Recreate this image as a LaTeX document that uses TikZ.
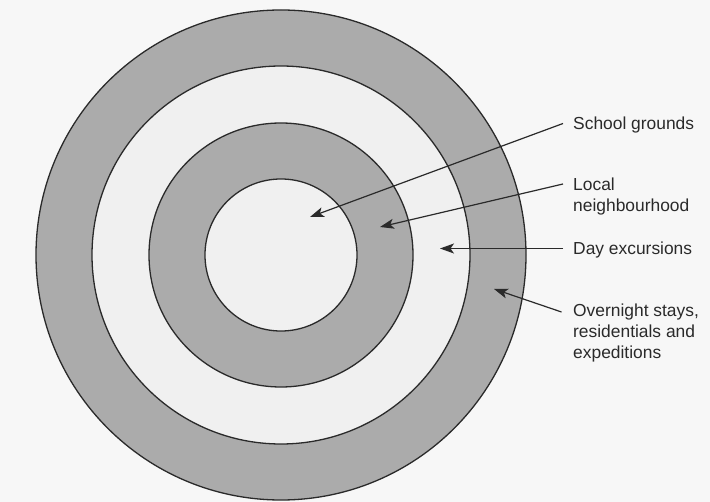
\documentclass[tikz,border=0pt]{standalone}
\usepackage{fontspec}
\setmainfont{Liberation Sans}
\usetikzlibrary{arrows.meta}
\definecolor{paper}{HTML}{F7F7F7}
\definecolor{ringdark}{HTML}{ABABAB}
\definecolor{ringlight}{HTML}{F0F0F0}
\definecolor{inkline}{HTML}{2A2A2A}
\tikzset{
  ring/.style={circle, draw=inkline, line width=1.3pt, inner sep=0pt, outer sep=0pt},
  label/.style={anchor=base west, inner sep=0pt, align=left, text=inkline,
    font=\fontsize{17.4}{21}\selectfont},
  pointer/.style={draw=inkline, line width=1.2pt,
    -{Stealth[length=14pt,width=10pt,inset=3.5pt]}}
}
\begin{document}
\begin{tikzpicture}[x=1pt,y=-1pt]
  \useasboundingbox (0,0) rectangle (710,502);
  \fill[paper] (0,0) rectangle (710,502);

  % concentric zones, outermost first
  \node[ring, fill=ringdark,  minimum size=490pt] (overnight) at (281,255) {};
  \node[ring, fill=ringlight, minimum size=378pt] (day)       at (281,255) {};
  \node[ring, fill=ringdark,  minimum size=264pt] (local)     at (281,255) {};
  \node[ring, fill=ringlight, minimum size=152pt] (school)    at (281,255) {};

  % labels (base anchor of a multi-line node sits on its last line)
  \node[label] (lschool) at (573,130) {School grounds};
  \node[label] (llocal)  at (573,212) {Local\\neighbourhood};
  \node[label] (lday)    at (573,255) {Day excursions};
  \node[label] (lnight)  at (573,359) {Overnight stays,\\residentials and\\expeditions};

  % pointer tails and tips
  \coordinate (tschool) at (563,123.5);
  \coordinate (tlocal)  at (563,184);
  \coordinate (tday)    at (563,248.5);
  \coordinate (tnight)  at (561.5,312);
  \coordinate (pschool) at (310,217);
  \coordinate (plocal)  at (380,227);
  \coordinate (pday)    at (440,248.5);
  \coordinate (pnight)  at (494,289);

  \draw[pointer] (tschool) -- (pschool);
  \draw[pointer] (tlocal)  -- (plocal);
  \draw[pointer] (tday)    -- (pday);
  \draw[pointer] (tnight)  -- (pnight);
\end{tikzpicture}
\end{document}
